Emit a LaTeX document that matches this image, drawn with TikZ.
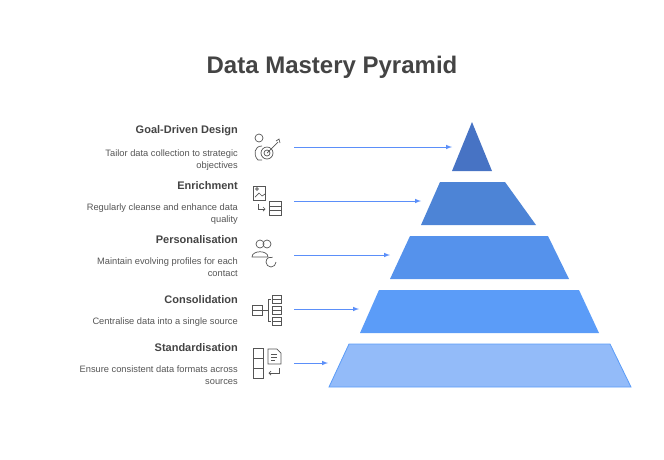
\documentclass[tikz,border=0pt]{standalone}
\usepackage{fontspec}
\setmainfont{Liberation Sans}
\definecolor{tx}{HTML}{444444}
\definecolor{ds}{HTML}{555555}
\definecolor{ar}{HTML}{5B8FF9}
\definecolor{ic}{HTML}{555555}
\definecolor{cA}{HTML}{4773C4}
\definecolor{cB}{HTML}{4D84D6}
\definecolor{cC}{HTML}{5592EC}
\definecolor{cD}{HTML}{5B9CF8}
\definecolor{cE}{HTML}{93BBF9}
\begin{document}
\begin{tikzpicture}[x=1pt,y=-1pt,
 ttl/.style={anchor=east,font=\bfseries\fontsize{11}{13}\selectfont,text=tx,inner sep=0},
 dsc/.style={anchor=north east,align=right,font=\fontsize{9.3}{12}\selectfont,text=ds,inner sep=0},
 arr/.style={draw=ar,line width=1pt,-latex},
 icn/.style={draw=ic,line width=0.7pt,fill=none}]
\useasboundingbox (0,0) rectangle (664,459);
\node[font=\bfseries\fontsize{24}{28}\selectfont,text=tx] (title) at (332,67) {Data Mastery Pyramid};
% layers
\fill[cA] (472,122) -- (492,171) -- (452,171) -- cycle;
\coordinate (L1) at (452,147);
\fill[cB] (440,182) -- (505,182) -- (536,225) -- (421,225) -- cycle;
\coordinate (L2) at (421,201);
\fill[cC] (410,236) -- (548,236) -- (569,279) -- (390,279) -- cycle;
\coordinate (L3) at (390,255);
\fill[cD] (379,290) -- (579,290) -- (599,333) -- (360,333) -- cycle;
\coordinate (L4) at (359,309);
\filldraw[fill=cE,draw=cD,line width=0.8pt] (349,344) -- (610,344) -- (631,387) -- (329,387) -- cycle;
\coordinate (L5) at (328,363);
% arrows
\coordinate (S1) at (294,147); \coordinate (S2) at (294,201);
\coordinate (S3) at (294,255); \coordinate (S4) at (294,309);
\coordinate (S5) at (294,363);
\draw[arr] (S1) -- (L1); \draw[arr] (S2) -- (L2); \draw[arr] (S3) -- (L3);
\draw[arr] (S4) -- (L4); \draw[arr] (S5) -- (L5);
% texts
\node[ttl] (t1) at (238,131) {Goal-Driven Design};
\node[dsc] (d1) at (238,150) {Tailor data collection to strategic\\objectives};
\node[ttl] (t2) at (238,186) {Enrichment};
\node[dsc] (d2) at (238,204) {Regularly cleanse and enhance data\\quality};
\node[ttl] (t3) at (238,240) {Personalisation};
\node[dsc] (d3) at (238,258) {Maintain evolving profiles for each\\contact};
\node[ttl] (t4) at (238,300) {Consolidation};
\node[dsc] (d4) at (238,318) {Centralise data into a single source};
\node[ttl] (t5) at (238,348) {Standardisation};
\node[dsc] (d5) at (238,366) {Ensure consistent data formats across\\sources};
% icon 1: person with target
\draw[icn] (259,138) circle (4);
\draw[icn] (262,160) -- (258,160) .. controls (253,155) and (254,146) .. (262,146);
\draw[icn] (267,153) circle (6); \draw[icn] (267,153) circle (3);
\draw[icn] (267,153) -- (278,142); \draw[icn] (276,141) -- (279,139) -- (280,143);
% icon 2: image + db
\draw[icn] (253,186) rectangle (265,200); \draw[icn] (255,197) -- (259,193) -- (262,196) -- (265,194);
\draw[icn] (257,189) circle (1.3);
\draw[icn] (258,204) -- (258,209) -- (265,209); \draw[icn] (263,207) -- (265,209) -- (263,211);
\draw[icn] (269,201) rectangle (281,215); \draw[icn] (269,206) -- (281,206); \draw[icn] (269,210) -- (281,210);
% icon 3: people + refresh
\draw[icn] (260,244) circle (4); \draw[icn] (267,244) circle (4);
\draw[icn] (252,257) .. controls (252,250) and (268,250) .. (268,257) -- cycle;
\draw[icn] (276,262) arc (0:290:5);
% icon 4: db merge
\draw[icn] (252,305) rectangle (262,315); \draw[icn] (252,310) -- (262,310);
\draw[icn] (262,310) -- (268,310);
\draw[icn] (271,299) -- (268,299) -- (268,321) -- (271,321);
\foreach \yy in {299,310,321}{\draw[icn] (272,\yy-4) rectangle (281,\yy+4);\draw[icn] (272,\yy) -- (281,\yy);}
% icon 5: grid + document
\draw[icn] (253,348) rectangle (263,378); \draw[icn] (253,358) -- (263,358); \draw[icn] (253,368) -- (263,368);
\draw[icn] (268,349) -- (277,349) -- (281,353) -- (281,364) -- (268,364) -- cycle;
\draw[icn] (271,354) -- (277,354); \draw[icn] (271,357) -- (277,357); \draw[icn] (271,360) -- (275,360);
\draw[icn] (279,368) -- (279,373) -- (269,373); \draw[icn] (271,371) -- (269,373) -- (271,375);
\end{tikzpicture}
\end{document}
